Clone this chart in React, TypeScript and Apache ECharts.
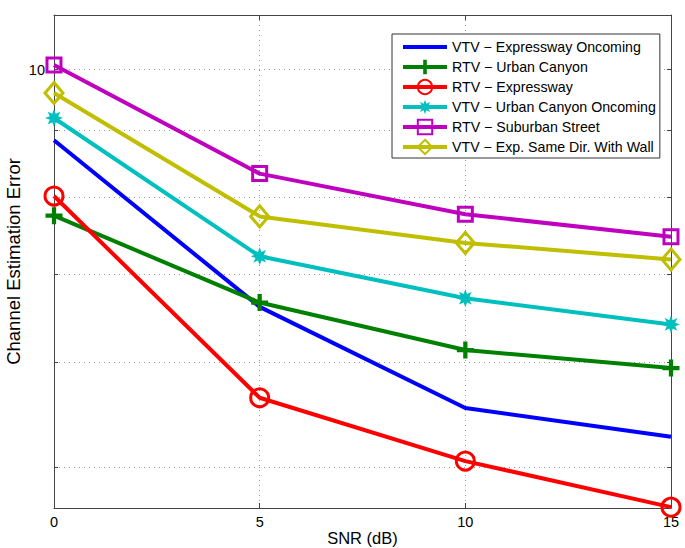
import React, { useEffect, useRef } from 'react';
import * as echarts from 'echarts';

const snr = [0, 5, 10, 15];
const seriesNames = [
  'VTV − Expressway Oncoming',
  'RTV − Urban Canyon',
  'RTV − Expressway',
  'VTV − Urban Canyon Oncoming',
  'RTV − Suburban Street',
  'VTV − Exp. Same Dir. With Wall',
];
const vtvExpresswayOncoming = [8.84, 6.61, 5.54, 5.27];
const rtvUrbanCanyon = [7.75, 6.66, 6.13, 5.94];
const rtvExpressway = [8.02, 5.64, 5.05, 4.66];
const vtvUrbanCanyonOncoming = [9.19, 7.22, 6.71, 6.41];
const rtvSuburbanStreet = [10.08, 8.34, 7.77, 7.47];
const vtvExpSameDirWall = [9.6, 7.74, 7.39, 7.18];
const yGridValues = [5, 6, 7, 8, 9, 10];
const yTickLabels = [10];
const xTicks = [0, 5, 10, 15];

const SANS = '"Liberation Sans", Arial, sans-serif';

function starPath(n: number, R: number, r: number) {
  let d = '';
  for (let i = 0; i < 2 * n; i++) {
    const a = (Math.PI * i) / n - Math.PI / 2;
    const rad = i % 2 === 0 ? R : r;
    d += (i === 0 ? 'M' : 'L') + (rad * Math.cos(a)).toFixed(3) + ',' + (rad * Math.sin(a)).toFixed(3) + ' ';
  }
  return 'path://' + d + 'Z';
}
const plusPath =
  'path://M-2,-8 L2,-8 L2,-2 L8,-2 L8,2 L2,2 L2,8 L-2,8 L-2,2 L-8,2 L-8,-2 L-2,-2 Z';

const toPairs = (vals: number[]) => snr.map((x, i) => [x, vals[i]]);

function makeSeries(name: string, vals: number[], color: string, symbol: string, size: any, hollow: boolean) {
  return {
    name,
    type: 'line',
    data: toPairs(vals),
    symbol,
    symbolSize: size,
    showSymbol: symbol !== 'none',
    clip: false,
    z: 3,
    lineStyle: { color, width: 4 },
    itemStyle: hollow
      ? { color: 'rgba(255,255,255,0)', borderColor: color, borderWidth: 3 }
      : { color, borderWidth: 0 },
    emphasis: { disabled: true },
  };
}

export default function App() {
  const ref = useRef<HTMLDivElement>(null);
  useEffect(() => {
    const chart = echarts.init(ref.current!, null, { renderer: 'svg' });
    const axisLineStyle = { color: '#444', width: 1 };
    const option: any = {
      animation: false,
      backgroundColor: '#fff',
      grid: { left: 54, right: 14, top: 15, bottom: 40, containLabel: false, outerBoundsMode: 'none' },
      legend: {
        data: seriesNames.map((n, i) =>
          i === 0 ? { name: n, itemStyle: { color: 'rgba(0,0,0,0)', borderWidth: 0, opacity: 0 } } : { name: n }
        ),
        orient: 'vertical',
        left: 392,
        top: 34,
        padding: [4, 4, 2, 9],
        itemWidth: 44,
        itemHeight: 18,
        itemGap: 2,
        backgroundColor: '#fff',
        borderColor: '#333',
        borderWidth: 1,
        borderRadius: 0,
        lineStyle: { width: 4 },
        textStyle: { fontFamily: SANS, fontSize: 14.2, color: '#000', lineHeight: 18 },
        selectedMode: false,
        z: 10,
      },
      xAxis: [
        {
          type: 'value',
          min: 0,
          max: 15,
          interval: 5,
          position: 'bottom',
          name: 'SNR (dB)',
          nameLocation: 'middle',
          nameGap: 21,
          nameMoveOverlap: false,
          nameTextStyle: { fontFamily: SANS, fontSize: 16.5, color: '#000', verticalAlign: 'top', lineHeight: 18 },
          axisLine: { show: true, lineStyle: axisLineStyle },
          axisTick: { show: true, inside: true, length: 5, lineStyle: axisLineStyle },
          axisLabel: { show: true, fontFamily: SANS, fontSize: 14.5, color: '#000', margin: 6, customValues: xTicks },
          splitLine: { show: true, lineStyle: { type: [1, 4], color: '#999', width: 1 } },
        },
        {
          type: 'value',
          min: 0,
          max: 15,
          interval: 5,
          position: 'top',
          axisLine: { show: true, onZero: false, lineStyle: axisLineStyle },
          axisTick: { show: true, inside: true, length: 5, lineStyle: axisLineStyle },
          axisLabel: { show: false },
          splitLine: { show: false },
        },
      ],
      yAxis: [
        {
          type: 'log',
          logBase: 10,
          min: 4.653,
          max: 11.0,
          position: 'left',
          name: 'Channel Estimation Error',
          nameLocation: 'middle',
          nameGap: 31,
          nameMoveOverlap: false,
          nameRotate: 90,
          nameTextStyle: { fontFamily: SANS, fontSize: 18.5, color: '#000' },
          axisLine: { show: true, lineStyle: axisLineStyle },
          axisTick: { show: true, inside: true, length: 4, lineStyle: axisLineStyle, customValues: yGridValues },
          axisLabel: {
            show: true,
            fontFamily: SANS,
            fontSize: 14.5,
            color: '#000',
            margin: 9,
            customValues: yTickLabels,
            formatter: (v: number) => String(Math.round(v)),
          },
          splitLine: { show: true, lineStyle: { type: [1, 4], color: '#999', width: 1 } },
          minorTick: { show: false },
        },
        {
          type: 'log',
          logBase: 10,
          min: 4.653,
          max: 11.0,
          position: 'right',
          axisLine: { show: true, onZero: false, lineStyle: axisLineStyle },
          axisTick: { show: true, inside: true, length: 4, lineStyle: axisLineStyle, customValues: yGridValues },
          axisLabel: { show: false },
          splitLine: { show: false },
        },
      ],
      series: [
        makeSeries(seriesNames[0], vtvExpresswayOncoming, '#0000ff', 'none', 0, false),
        makeSeries(seriesNames[1], rtvUrbanCanyon, '#008000', plusPath, 17, false),
        makeSeries(seriesNames[2], rtvExpressway, '#ff0000', 'circle', 18, true),
        makeSeries(seriesNames[3], vtvUrbanCanyonOncoming, '#00bfbf', starPath(8, 8, 4), 18, false),
        makeSeries(seriesNames[4], rtvSuburbanStreet, '#bf00bf', 'rect', 14, true),
        makeSeries(seriesNames[5], vtvExpSameDirWall, '#bfbf00', 'diamond', [18, 21], true),
      ],
    };
    chart.setOption(option);
    return () => chart.dispose();
  }, []);
  return (
    <div
      ref={ref}
      style={{ position: 'absolute', left: 0, top: 0, width: 685, height: 548, background: '#fff' }}
    />
  );
}
